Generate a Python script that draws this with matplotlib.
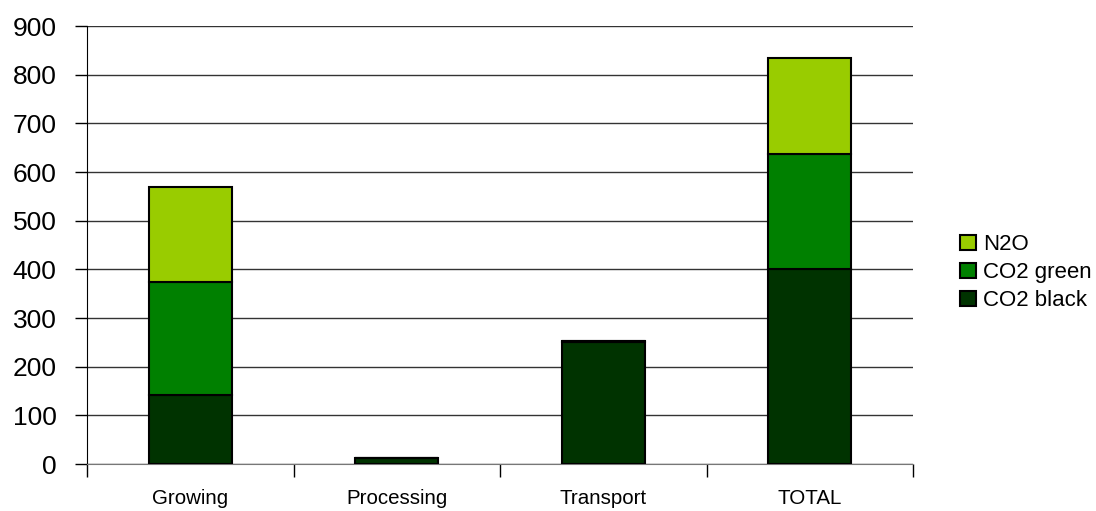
import matplotlib
matplotlib.use("Agg")
import matplotlib.pyplot as plt
import numpy as np

plt.rcParams['font.family'] = ['Liberation Sans', 'DejaVu Sans']

categories = ["Growing", "Processing", "Transport", "TOTAL"]
co2_black = [142, 13, 250, 401]
co2_green = [232, 0, 3, 237]
n2o = [196, 0, 0, 196]

series = [("CO2 black", co2_black, "#003300"),
          ("CO2 green", co2_green, "#008000"),
          ("N2O", n2o, "#99CC00")]

fig = plt.figure(figsize=(10.96, 5.11), dpi=100)
ax = fig.add_axes([87 / 1096, 47 / 511, 826 / 1096, 438 / 511])

x = np.arange(len(categories))
bottom = np.zeros(len(categories))
for name, vals, color in series:
    vals = np.array(vals, dtype=float)
    ax.bar(x, vals, width=0.4, bottom=bottom, color=color,
           edgecolor="black", linewidth=1.5, label=name, zorder=3)
    bottom += vals

ax.set_xlim(-0.5, len(categories) - 0.5)
ax.set_ylim(0, 900)
ax.set_yticks(np.arange(0, 901, 100))
ax.yaxis.grid(True, color="#333333", linewidth=1, zorder=0)
ax.set_axisbelow(True)

# category boundaries as minor ticks, labels centred under the bars
ax.set_xticks(x)
ax.set_xticklabels(categories, fontsize=14.8)
ax.set_xticks(np.arange(-0.5, len(categories)), minor=True)
ax.tick_params(axis="x", which="major", length=0, pad=18)
ax.tick_params(axis="x", which="minor", length=9, width=1, color="black")
ax.tick_params(axis="y", length=9, width=1, labelsize=19, pad=13)

for s in ["top", "right"]:
    ax.spines[s].set_visible(False)
ax.spines["left"].set_color("black")
ax.spines["bottom"].set_color("#777777")

handles, labels = ax.get_legend_handles_labels()
leg = fig.legend(handles[::-1], labels[::-1], loc="center left",
                 bbox_to_anchor=(940 / 1096, 0.466), frameon=False,
                 fontsize=16, handlelength=0.7, handleheight=0.7,
                 handletextpad=0.35, labelspacing=0.32)

fig.savefig("out.png", dpi=100)
